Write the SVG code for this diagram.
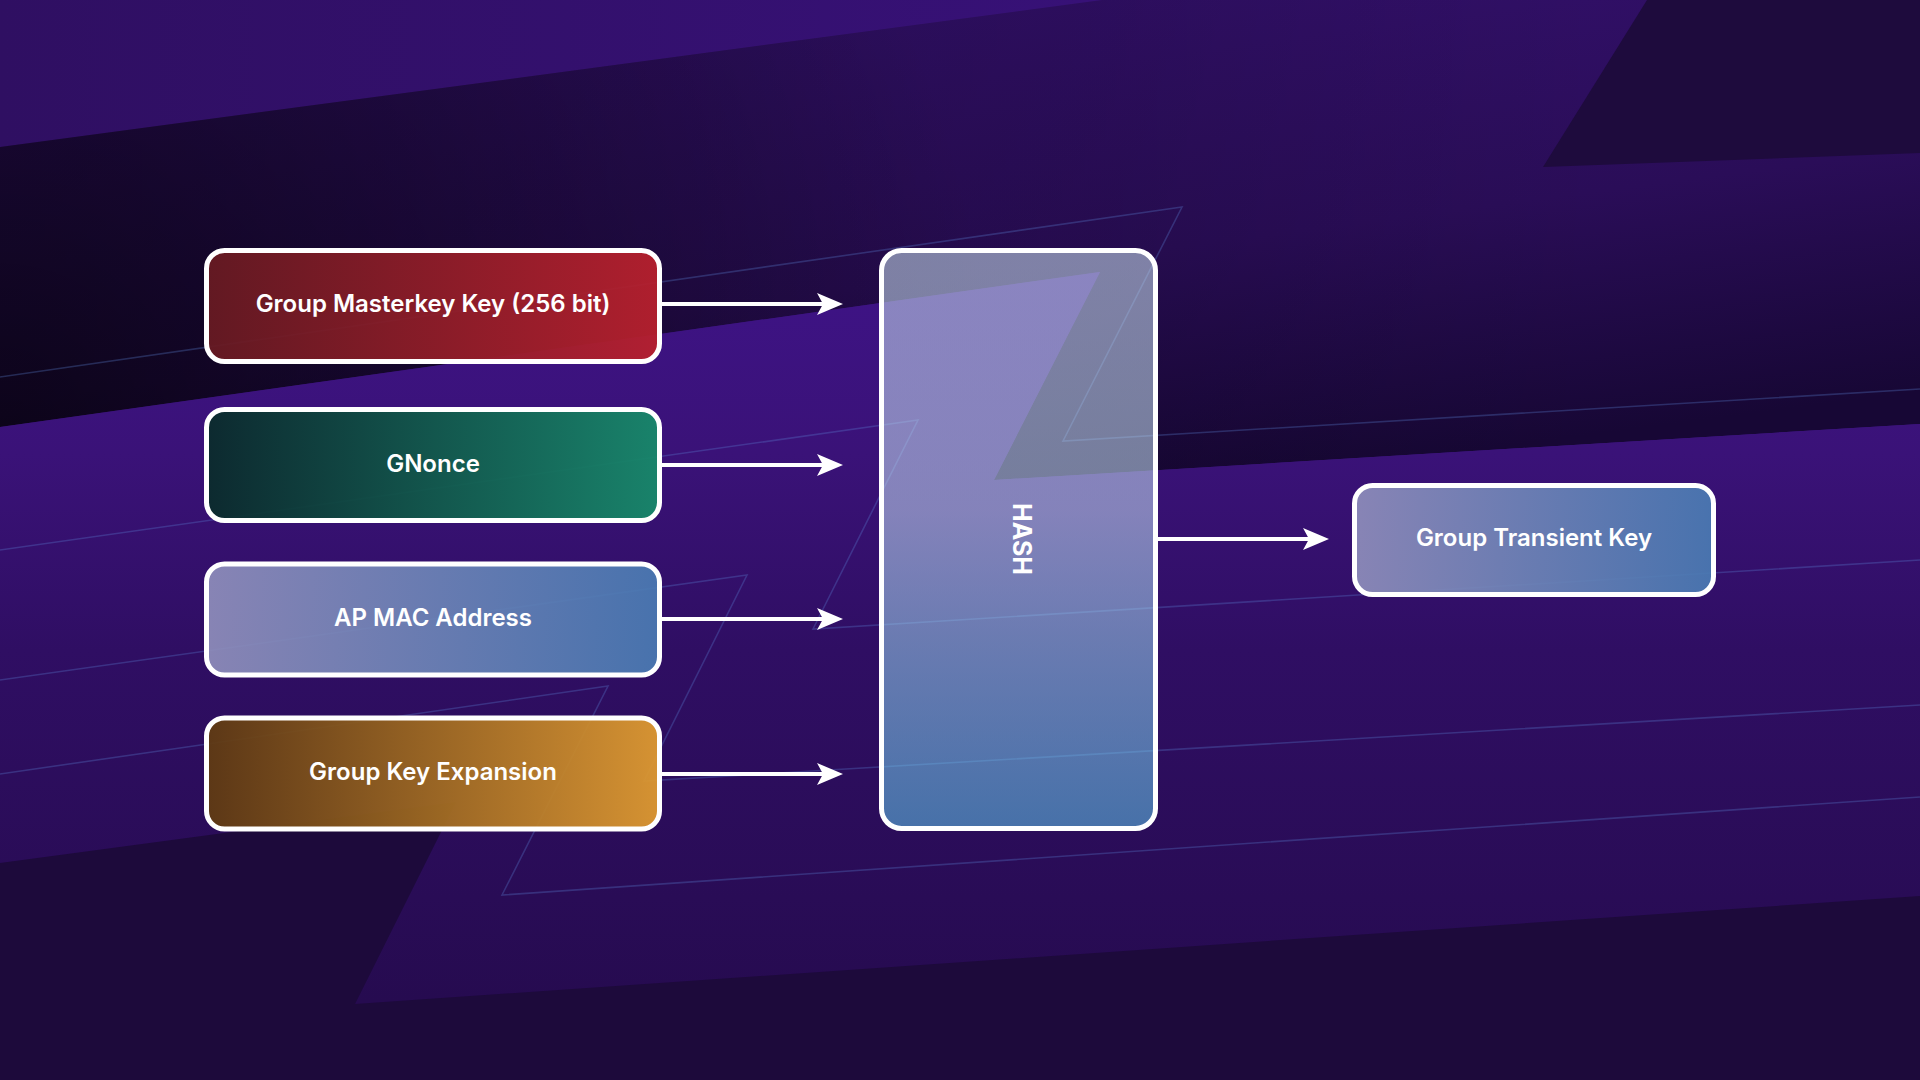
<svg xmlns="http://www.w3.org/2000/svg" width="1920" height="1080" viewBox="0 0 1920 1080">
  <defs>
    <style>
      .node-box { stroke: #ffffff; stroke-width: 5; }
      .label { font-family: Inter, "Open Sans", "Liberation Sans", sans-serif; font-weight: 600; font-size: 24px; fill: #ffffff; text-anchor: middle; }
      .hash-label { font-family: Inter, "Open Sans", "Liberation Sans", sans-serif; font-weight: 700; font-size: 25px; fill: #ffffff; text-anchor: middle; }
      .edge { stroke: #ffffff; stroke-width: 4; fill: none; marker-end: url(#arrow); }
      .bg-line { stroke: #5d86d6; stroke-opacity: 0.3; stroke-width: 1.6; fill: none; }
    </style>
    <marker id="arrow" viewBox="0 0 26 22" refX="18" refY="11" markerWidth="26" markerHeight="22" markerUnits="userSpaceOnUse" orient="auto">
      <path d="M0,0 L26,11 L0,22 L6,11 Z" fill="#ffffff"/>
    </marker>
    <linearGradient id="gTop" x1="0" y1="0" x2="1650" y2="0" gradientUnits="userSpaceOnUse">
      <stop offset="0" stop-color="#2f0f62"/>
      <stop offset="1" stop-color="#3b1282"/>
    </linearGradient>
    <linearGradient id="gMid" x1="800" y1="0" x2="870" y2="530" gradientUnits="userSpaceOnUse">
      <stop offset="0" stop-color="#33106c"/>
      <stop offset="0.55" stop-color="#2a0d58"/>
      <stop offset="1" stop-color="#170735"/>
    </linearGradient>
    <linearGradient id="gMidH" x1="0" y1="0" x2="1600" y2="0" gradientUnits="userSpaceOnUse">
      <stop offset="0" stop-color="#000000" stop-opacity="0.25"/>
      <stop offset="0.69" stop-color="#000000" stop-opacity="0.12"/>
      <stop offset="1" stop-color="#000000" stop-opacity="0"/>
    </linearGradient>
    <radialGradient id="gMidR" cx="0" cy="430" r="1000" gradientUnits="userSpaceOnUse">
      <stop offset="0" stop-color="#000000" stop-opacity="0.6"/>
      <stop offset="1" stop-color="#000000" stop-opacity="0"/>
    </radialGradient>
    <linearGradient id="gBright" x1="0" y1="272" x2="0" y2="1000" gradientUnits="userSpaceOnUse">
      <stop offset="0" stop-color="#3e1386"/>
      <stop offset="0.25" stop-color="#3a1278"/>
      <stop offset="0.52" stop-color="#2f0e63"/>
      <stop offset="0.86" stop-color="#290c56"/>
      <stop offset="1" stop-color="#260b50"/>
    </linearGradient>
    <linearGradient id="gRed" x1="0" y1="0" x2="1" y2="0">
      <stop offset="0" stop-color="#671a22"/>
      <stop offset="1" stop-color="#b8202d"/>
    </linearGradient>
    <linearGradient id="gGreen" x1="0" y1="0" x2="1" y2="0">
      <stop offset="0" stop-color="#0a2b2b"/>
      <stop offset="1" stop-color="#178a6a"/>
    </linearGradient>
    <linearGradient id="gBlue" x1="0" y1="0" x2="1" y2="0">
      <stop offset="0" stop-color="#8f8ebb"/>
      <stop offset="1" stop-color="#4a7bb3"/>
    </linearGradient>
    <linearGradient id="gOrange" x1="0" y1="0" x2="1" y2="0">
      <stop offset="0" stop-color="#5f3a12"/>
      <stop offset="1" stop-color="#e09b30"/>
    </linearGradient>
    <linearGradient id="gHash" x1="0" y1="0" x2="0" y2="1">
      <stop offset="0" stop-color="#cae2f0"/>
      <stop offset="0.45" stop-color="#c4e0f6"/>
      <stop offset="1" stop-color="#5ec4ea"/>
    </linearGradient>
  </defs>

  <!-- background -->
  <g id="background">
    <rect x="0" y="0" width="1920" height="1080" fill="url(#gTop)"/>
    <polygon points="0,147 1102,0 1920,0 1920,424 994,480 1100,272 0,427" fill="url(#gMid)"/>
    <polygon points="0,147 1102,0 1920,0 1920,424 994,480 1100,272 0,427" fill="url(#gMidH)"/>
    <polygon points="0,147 1102,0 1920,0 1920,424 994,480 1100,272 0,427" fill="url(#gMidR)"/>
    <polygon points="1647,0 1920,0 1920,153 1543,167" fill="#1e0b3d"/>
    <polygon points="0,427 1100,272 994,480 1920,424 1920,1080 0,1080" fill="url(#gBright)"/>
    <polygon points="0,863 456,802 355,1004 1920,896 1920,1080 0,1080" fill="#1d0a3b"/>
    <polyline class="bg-line" points="0,377 1182,207 1063,441 1920,389"/>
    <polyline class="bg-line" points="0,550 918,420 813,629 1920,560"/>
    <polyline class="bg-line" points="0,680 747,575 644,781 1920,705"/>
    <polyline class="bg-line" points="0,774 608,686 502,895 1920,797"/>
  </g>

  <!-- connectors -->
  <g id="connectors">
    <line class="edge" x1="662" y1="304" x2="835" y2="304"/>
    <line class="edge" x1="662" y1="465" x2="835" y2="465"/>
    <line class="edge" x1="662" y1="619" x2="835" y2="619"/>
    <line class="edge" x1="662" y1="774" x2="835" y2="774"/>
    <line class="edge" x1="1158" y1="539" x2="1321" y2="539"/>
  </g>

  <g id="node-gmk">
    <rect class="node-box" x="206.5" y="250.5" width="453" height="111" rx="18" fill="url(#gRed)" fill-opacity="0.94"/>
    <text class="label" x="433" y="311.5">Group Masterkey Key (256 bit)</text>
  </g>
  <g id="node-gnonce">
    <rect class="node-box" x="206.5" y="409.5" width="453" height="111" rx="18" fill="url(#gGreen)" fill-opacity="0.94"/>
    <text class="label" x="433" y="471.5">GNonce</text>
  </g>
  <g id="node-apmac">
    <rect class="node-box" x="206.5" y="564" width="453" height="111" rx="18" fill="url(#gBlue)" fill-opacity="0.92"/>
    <text class="label" x="433" y="626">AP MAC Address</text>
  </g>
  <g id="node-gke">
    <rect class="node-box" x="206.5" y="718" width="453" height="111" rx="18" fill="url(#gOrange)" fill-opacity="0.94"/>
    <text class="label" x="433" y="780">Group Key Expansion</text>
  </g>
  <g id="node-hash">
    <rect class="node-box" x="881.5" y="250.5" width="274" height="578" rx="20" fill="url(#gHash)" fill-opacity="0.55"/>
    <text class="hash-label" transform="translate(1013,539) rotate(90)">HASH</text>
  </g>
  <g id="node-gtk">
    <rect class="node-box" x="1354.5" y="485.5" width="359" height="109" rx="18" fill="url(#gBlue)" fill-opacity="0.92"/>
    <text class="label" x="1534" y="546">Group Transient Key</text>
  </g>
</svg>
